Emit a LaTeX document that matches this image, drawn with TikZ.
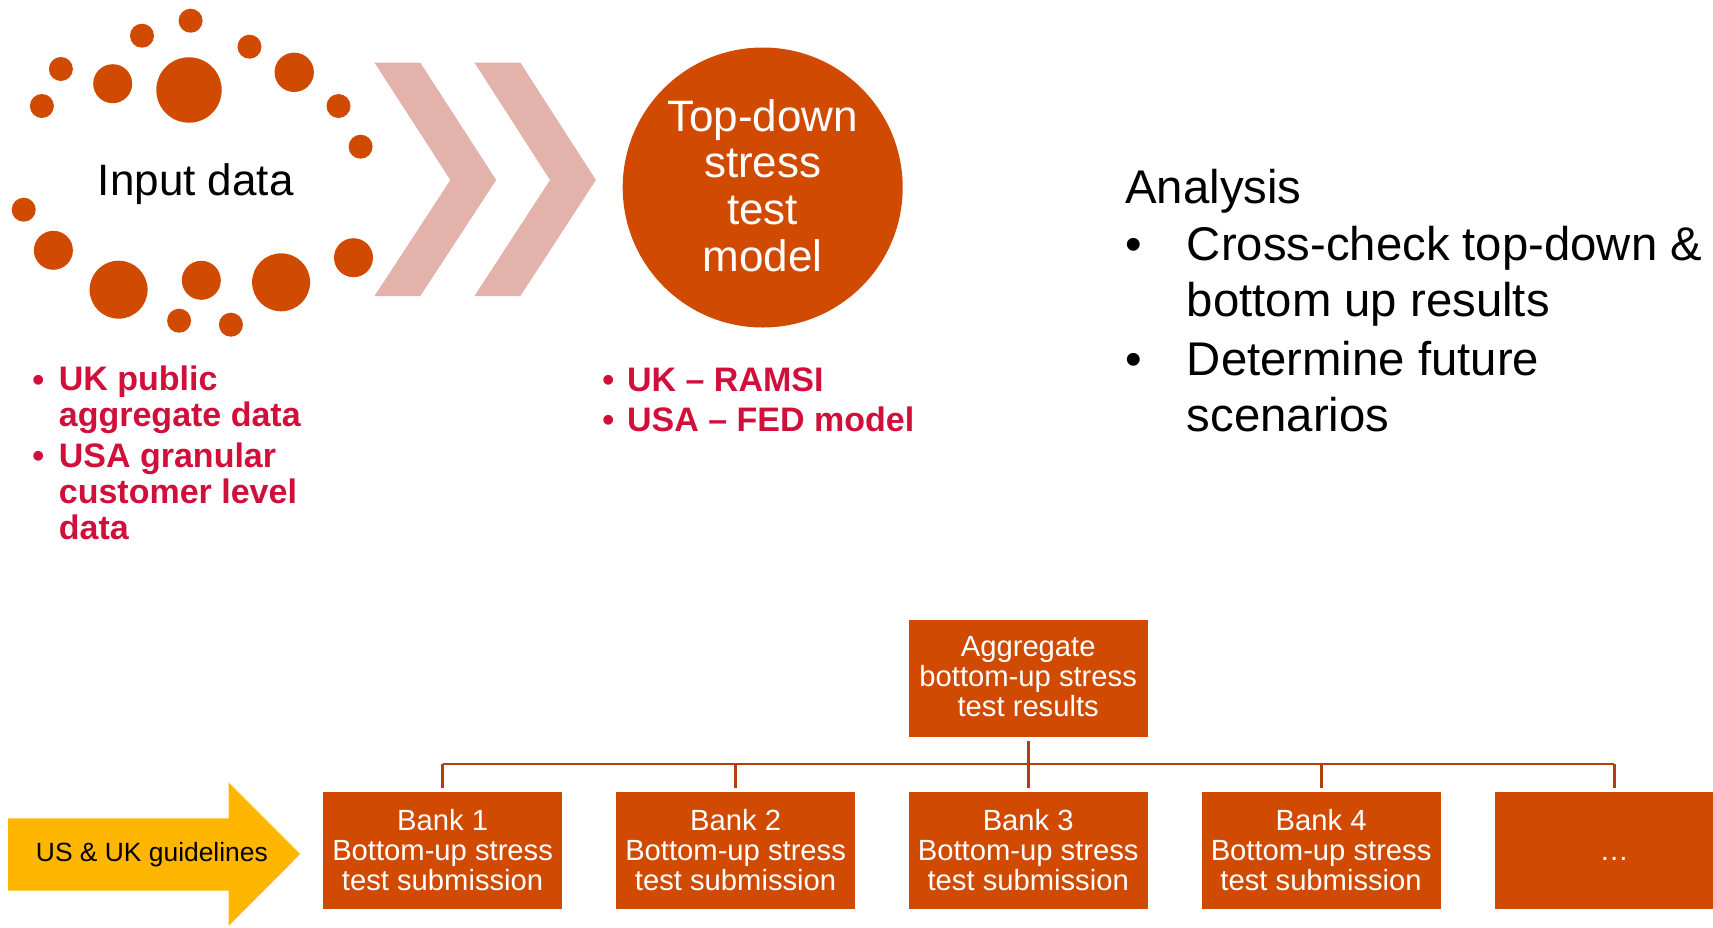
\documentclass[tikz,border=0pt]{standalone}
\usepackage{fontspec}
\setmainfont{Liberation Sans}
\definecolor{pwcorange}{HTML}{D04A02}
\definecolor{chev}{HTML}{E3B2AA}
\definecolor{pwcred}{HTML}{D0103A}
\definecolor{pwcyellow}{HTML}{FFB600}
\definecolor{linec}{HTML}{B0400C}
\begin{document}
\begin{tikzpicture}[x=0.5pt,y=-0.5pt,
  dot/.style={circle,fill=pwcorange,inner sep=0pt,minimum size=#1},
  redtxt/.style={font=\fontsize{17}{18}\selectfont\bfseries,text=pwcred,inner sep=0pt},
  redlist/.style={redtxt,align=left,anchor=north west,execute at begin node=\strut,execute at end node=\strut},
  bigtxt/.style={font=\fontsize{23.65}{28.5}\selectfont,inner sep=0pt},
  box/.style={fill=pwcorange,minimum width=119.5pt,minimum height=58.8pt,inner sep=0pt},
  boxtxt/.style={text=white,inner sep=0pt,align=center,
    font=\fontsize{14.6}{15}\selectfont,execute at begin node=\strut,execute at end node=\strut},
  conn/.style={draw=linec,line width=1.4pt}]
\useasboundingbox (0,0) rectangle (1713,927);
\clip (0,0) rectangle (1713,927);
\fill[white] (0,0) rectangle (1713,927);
% dots
\foreach \x/\y/\r [count=\i] in {190.6/20.7/12, 142/35.7/12, 249.5/46.7/12, 60.9/69/12, 112.7/83.7/19.5,
  189/90/32.7, 294.2/72.3/19.7, 41.9/106/12, 338.5/106/12, 360.6/146.7/12, 23.7/209.7/12, 53.4/250.3/19.5,
  118.6/289.7/29, 201.3/280.3/19.5, 281.1/282.3/29, 353.5/257.7/19.5, 179.1/320.7/12, 230.9/324.7/12}
  \node[dot=\r pt] (d\i) at (\x,\y) {};
\node[anchor=base,font=\fontsize{22}{26}\selectfont,inner sep=0pt] (input) at (195.8,195) {Input data};
% chevrons
\fill[chev] (374.5,62.7) -- (420.3,62.7) -- (496.2,180) -- (420.3,296) -- (374.5,296) -- (450.4,180) -- cycle;
\fill[chev] (474.5,62.7) -- (520.4,62.7) -- (595.9,180) -- (520.4,296) -- (474.5,296) -- (550,180) -- cycle;
% top-down circle
\node[circle,fill=pwcorange,minimum size=140pt,inner sep=0pt] (td) at (762.7,187.5) {};
\node[font=\fontsize{22}{23.35}\selectfont,text=white,align=center,inner sep=0pt,
  execute at begin node=\strut,execute at end node=\strut] (tdtxt) at (762.7,192.4) {Top-down\\stress\\test\\model};
% left red list
\node[redtxt,anchor=base] (lb1) at (38.4,391) {•};
\node[redlist] (li1) at (58.5,365.8) {UK public\\aggregate data};
\node[redtxt,anchor=base] (lb2) at (38.4,467.6) {•};
\node[redlist] (li2) at (58.5,442.4) {USA granular\\customer level\\data};
% right red list
\node[redtxt,anchor=base] (rb1) at (608.3,391.7) {•};
\node[redtxt,anchor=base west] (ri1) at (626.7,391.7) {UK – RAMSI};
\node[redtxt,anchor=base] (rb2) at (608.3,431.7) {•};
\node[redtxt,anchor=base west] (ri2) at (626.7,431.7) {USA – FED model};
% analysis
\node[bigtxt,anchor=base west] (an) at (1125,203.3) {Analysis};
\node[bigtxt,anchor=base] (ab1) at (1133.3,260) {•};
\node[bigtxt,anchor=base west] (ai1a) at (1186.5,260) {Cross-check top-down \&};
\node[bigtxt,anchor=base west] (ai1b) at (1186.5,316.7) {bottom up results};
\node[bigtxt,anchor=base] (ab2) at (1133.3,375) {•};
\node[bigtxt,anchor=base west] (ai2a) at (1186.5,375) {Determine future};
\node[bigtxt,anchor=base west] (ai2b) at (1186.5,431.7) {scenarios};
% yellow arrow
\fill[pwcyellow] (8,818.3) -- (228.5,818.3) -- (228.5,782.3) -- (300.2,854) -- (228.5,926) -- (228.5,890.7) -- (8,890.7) -- cycle;
\node[anchor=base,font=\fontsize{13.2}{15}\selectfont,inner sep=0pt] (guide) at (151.9,861.7) {US \& UK guidelines};
% boxes
\node[box] (agg) at (1028.2,678.3) {};
\node[boxtxt] (aggt) at ([yshift=-1.35pt]agg.center) {Aggregate\\bottom-up stress\\test results};
\foreach \i/\x in {1/442.6,2/735.6,3/1028.2,4/1321.1}{
  \node[box] (b\i) at (\x,850.5) {};
  \node[boxtxt] (bt\i) at ([yshift=-1.75pt]b\i.center) {Bank \i\\Bottom-up stress\\test submission};
}
\node[box] (b5) at (1614.3,850.5) {};
\node[boxtxt] (bt5) at ([yshift=-1.75pt]b5.center) {…};
% connectors
\coordinate (bus) at (0,764);
\draw[conn,shorten <=1.5pt] (agg.south) -- (agg.south |- bus);
\draw[conn] (b1.north |- bus) -- (b5.north |- bus);
\foreach \i in {1,...,5} \draw[conn,shorten <=1.7pt] (b\i.north) -- (b\i.north |- bus);
\end{tikzpicture}
\end{document}
